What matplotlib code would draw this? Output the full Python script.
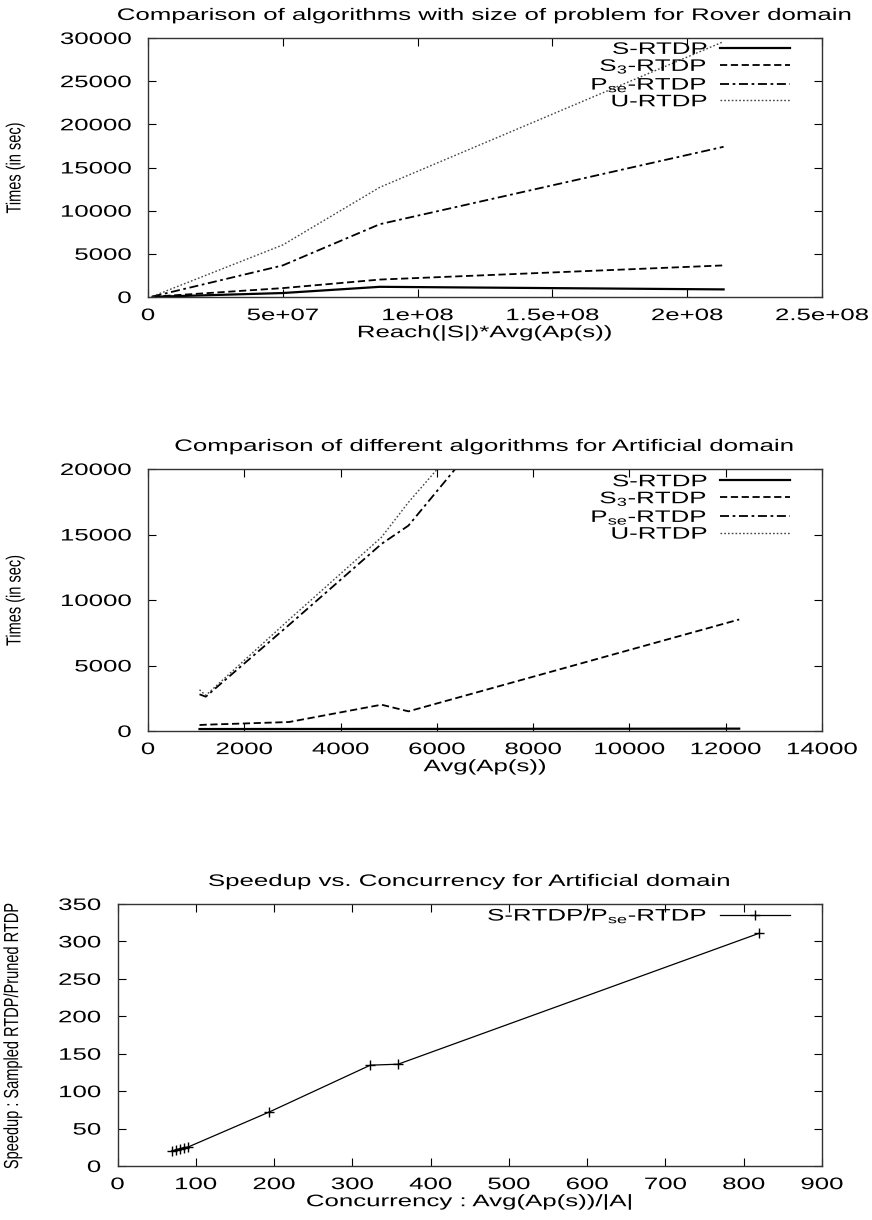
import matplotlib
matplotlib.use('Agg')
from matplotlib import pyplot as plt
from matplotlib import patheffects as pe
from matplotlib.transforms import Affine2D

plt.rcParams['font.family'] = ['Liberation Sans', 'DejaVu Sans']
plt.rcParams['mathtext.fontset'] = 'custom'
plt.rcParams['mathtext.rm'] = 'Liberation Sans'
plt.rcParams['mathtext.it'] = 'Liberation Sans:italic'

# Rover domain: problem size vs time
rover_x = [1.7e6, 5.0e7, 8.6e7, 2.135e8]
rover_s = [20, 460, 1180, 880]
rover_s3 = [30, 1030, 2020, 3660]
rover_pse = [60, 3660, 8435, 17400]
rover_u = [80, 6030, 12710, 29580]
rover_xticks = [0, 5e7, 1e8, 1.5e8, 2e8, 2.5e8]
rover_xticklabels = ['0', '5e+07', '1e+08', '1.5e+08', '2e+08', '2.5e+08']

# Artificial domain: Avg(Ap(s)) vs time
art_x = [1070, 1200, 2930, 4850, 5410, 12280]
art_s = [150, 150, 155, 160, 160, 180]
art_s3 = [457, 480, 686, 2008, 1500, 8513]
art_pse = [2800, 2620, 8100, 14280, 15680, 46230]
art_u = [3150, 2720, 8500, 14790, 17460, 46520]

# speedup vs concurrency
conc = [69, 75, 80, 85, 90.5, 194, 323, 358.5, 820]
speedup = [19.7, 21.9, 23.3, 24.7, 25.5, 72.2, 134.7, 136, 311]

labels = ['S-RTDP', 'S$_3$-RTDP', 'P$_{\\mathrm{se}}$-RTDP', 'U-RTDP']
styles = [dict(ls='-', lw=1.6),
          dict(ls=(0, (4, 2)), lw=1.3),
          dict(ls=(0, (5, 2, 1.5, 2)), lw=1.3),
          dict(ls=(0, (1.2, 1.5)), lw=1.0, color='#444444')]

FS = 12
SX = 1.55   # the old postscript output has its text stretched sideways


class Stretch(pe.AbstractPathEffect):
    # scale the glyphs of a text about one of its ends (or its middle)
    def __init__(self, sx=SX, sy=1.0, anchor='center'):
        super().__init__()
        self.sx, self.sy, self.anchor = sx, sy, anchor

    def draw_path(self, renderer, gc, tpath, affine, rgbFace=None):
        ext = tpath.get_extents()
        if self.anchor == 'left':
            cx = ext.x0
        elif self.anchor == 'right':
            cx = ext.x1
        else:
            cx = (ext.x0 + ext.x1) / 2
        cy = (ext.y0 + ext.y1) / 2
        t = Affine2D().translate(-cx, -cy).scale(self.sx, self.sy).translate(cx, cy)
        renderer.draw_path(gc, tpath, t + affine, rgbFace)


fig = plt.figure(figsize=(8.72, 12.2), dpi=100)


def style_axes(ax):
    ax.tick_params(direction='in', top=True, right=True, length=6, width=0.8,
                   labelsize=FS)
    ax.tick_params(axis='x', pad=8)
    ax.tick_params(axis='y', pad=12)
    for sp in ax.spines.values():
        sp.set_linewidth(1.0)
        sp.set_color('#333333')
    for t in ax.get_xticklabels():
        t.set_path_effects([Stretch(anchor='center')])
    for t in ax.get_yticklabels():
        t.set_path_effects([Stretch(anchor='right')])


def put_texts(ax, title, xlabel, ylabel, ylab_x):
    t = ax.set_title(title, fontsize=FS, pad=13)
    t.set_path_effects([Stretch()])
    t = ax.set_xlabel(xlabel, fontsize=FS, labelpad=1.5)
    t.set_path_effects([Stretch()])
    t = ax.set_ylabel(ylabel, fontsize=10.5)
    t.set_path_effects([Stretch(sx=1.0, sy=1.4)])
    ax.yaxis.set_label_coords(ylab_x, 0.5)


def put_legend(ax, x, y):
    leg = ax.legend(loc='upper right', bbox_to_anchor=(x, y), frameon=False,
                    markerfirst=False, fontsize=FS, borderpad=0, borderaxespad=0,
                    labelspacing=0.0, handlelength=4.2, handletextpad=0.8)
    for t in leg.get_texts():
        t.set_path_effects([Stretch(anchor='right')])


# top chart
ax1 = fig.add_axes([148 / 872, 1 - 297 / 1220, 674 / 872, 259 / 1220])
for ys, lab, st in zip([rover_s, rover_s3, rover_pse, rover_u], labels, styles):
    kw = dict(color='black')
    kw.update(st)
    ax1.plot(rover_x, ys, label=lab, **kw)
ax1.set_xlim(0, 2.5e8)
ax1.set_ylim(0, 30000)
ax1.set_xticks(rover_xticks)
ax1.set_xticklabels(rover_xticklabels)
ax1.set_yticks(range(0, 30001, 5000))
style_axes(ax1)
put_texts(ax1, 'Comparison of algorithms with size of problem for Rover domain',
          'Reach(|S|)*Avg(Ap(s))', 'Times (in sec)', -0.187)
put_legend(ax1, 0.953, 0.985)

# middle chart
ax2 = fig.add_axes([148 / 872, 1 - 731 / 1220, 674 / 872, 262 / 1220])
for ys, lab, st in zip([art_s, art_s3, art_pse, art_u], labels, styles):
    kw = dict(color='black')
    kw.update(st)
    ax2.plot(art_x, ys, label=lab, **kw)
ax2.set_xlim(0, 14000)
ax2.set_ylim(0, 20000)
ax2.set_xticks(range(0, 14001, 2000))
ax2.set_yticks(range(0, 20001, 5000))
style_axes(ax2)
put_texts(ax2, 'Comparison of different algorithms for Artificial domain',
          'Avg(Ap(s))', 'Times (in sec)', -0.187)
put_legend(ax2, 0.953, 0.98)

# bottom chart
ax3 = fig.add_axes([117.5 / 872, 1 - 1166 / 1220, 704.5 / 872, 262 / 1220])
ax3.plot(conc, speedup, color='black', lw=0.9, marker='+', ms=7, mew=1.0,
         label='S-RTDP/P$_{\\mathrm{se}}$-RTDP')
ax3.set_xlim(0, 900)
ax3.set_ylim(0, 350)
ax3.set_xticks(range(0, 901, 100))
ax3.set_yticks(range(0, 351, 50))
style_axes(ax3)
put_texts(ax3, 'Speedup vs. Concurrency for Artificial domain',
          'Concurrency : Avg(Ap(s))/|A|', 'Speedup : Sampled RTDP/Pruned RTDP', -0.139)
put_legend(ax3, 0.955, 0.99)

fig.savefig('out.png', dpi=100)
